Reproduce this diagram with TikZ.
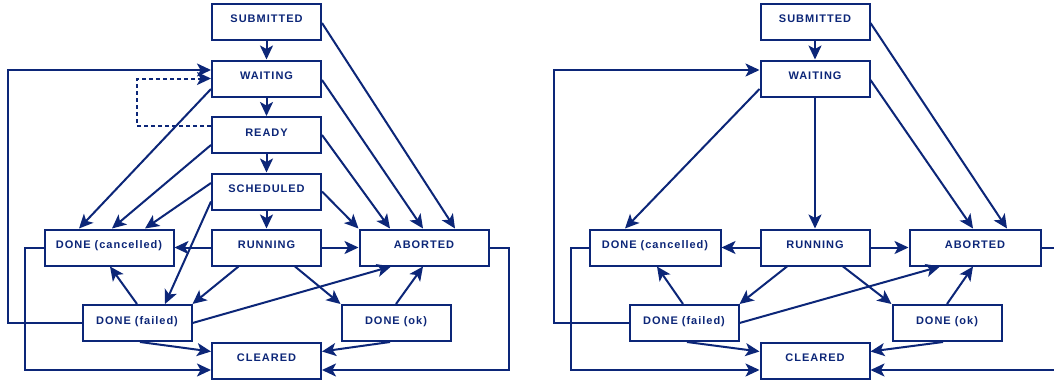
\documentclass[tikz,border=0pt]{standalone}
\usepackage{fontspec}
\usetikzlibrary{arrows.meta}
\newfontfamily\labfont[LetterSpace=9]{Liberation Sans}
\definecolor{navy}{RGB}{12,38,120}
\tikzset{
  state/.style={draw=navy, line width=2pt, fill=white, minimum height=36pt,
    minimum width=109pt, inner sep=0pt, text=navy,
    font=\labfont\bfseries\fontsize{11pt}{13pt}\selectfont,
    text height=8pt, text depth=6pt},
  wide/.style={minimum width=129pt},
  wider/.style={minimum width=131pt},
  edge/.style={draw=navy, line width=2pt, -{Stealth[length=14pt,width=13pt,inset=3.5pt]}},
  dashedge/.style={edge, dash pattern=on 4pt off 3pt}
}
\begin{document}
\begin{tikzpicture}[x=1pt,y=-1pt]
\useasboundingbox (0,0) rectangle (1054,380);
\clip (0,0) rectangle (1054,380);
\fill[white] (0,0) rectangle (1054,380);

% ---------- left diagram ----------
\node[state] (sub)   at (266.5,22)    {SUBMITTED};
\node[state] (wait)  at (266.5,78.5)  {WAITING};
\node[state] (ready) at (266.5,135)   {READY};
\node[state] (sched) at (266.5,191.5) {SCHEDULED};
\node[state] (run)   at (266.5,247.5) {RUNNING};
\node[state,wide] (canc) at (109,247.5) {DONE (cancelled)};
\node[state,wide] (abort) at (424,247.5) {ABORTED};
\node[state] (fail)  at (137,323)     {DONE (failed)};
\node[state] (ok)    at (396,323)     {DONE (ok)};
\node[state] (clear) at (266.5,360.5) {CLEARED};

\draw[edge] (sub) -- (wait);
\draw[edge] (wait) -- (ready);
\draw[edge] (ready) -- (sched);
\draw[edge] (sched) -- (run);
\draw[dashedge] ([yshift=9.5pt]ready.west) -- ++(-74,0) |- (wait.west);
\draw[edge] (fail.west) -- ++(-74,0) |- ([yshift=8.5pt]wait.west);
\draw[edge] ([yshift=-10.5pt]wait.west) -- ([xshift=-30pt]canc.north);
\draw[edge] ([yshift=-10pt]ready.west) -- ([xshift=3pt]canc.north);
\draw[edge] ([yshift=8.5pt]sched.west) -- ([xshift=36pt]canc.north);
\draw[edge] ([yshift=-10pt]sched.west) -- ([xshift=28pt]fail.north);
\draw[edge] (run.west) -- (canc.east);
\draw[edge] (run.east) -- (abort.west);
\draw[edge] ([xshift=-28pt]run.south) -- (fail.north east);
\draw[edge] ([xshift=28.5pt]run.south) -- (ok.north west);
\draw[edge] (fail.north) -- ([xshift=1pt]canc.south);
\draw[edge] (fail.east) -- ([xshift=-33pt]abort.south);
\draw[edge] (ok.north) -- ([xshift=-1pt]abort.south);
\draw[edge] ([xshift=3pt]fail.south) -- ([yshift=9pt]clear.west);
\draw[edge] ([xshift=-6pt]ok.south) -- ([yshift=9pt]clear.east);
\draw[edge] (canc.west) -- ++(-19,0) |- ([yshift=-9.5pt]clear.west);
\draw[edge] (abort.east) -- ++(19,0) |- ([yshift=-9.5pt]clear.east);
\draw[edge] ([yshift=-1pt]sub.east) -- ([xshift=31pt]abort.north);
\draw[edge] ([yshift=-1.5pt]wait.east) -- ([xshift=-1pt]abort.north);
\draw[edge] (ready.east) -- ([xshift=-34pt]abort.north);
\draw[edge] (sched.east) -- (abort.north west);

% ---------- right diagram ----------
\node[state] (rsub)   at (815,22)    {SUBMITTED};
\node[state] (rwait)  at (815,78.5)  {WAITING};
\node[state] (rrun)   at (815,247.5) {RUNNING};
\node[state,wider] (rcanc)  at (655,247.5) {DONE (cancelled)};
\node[state,wider] (rabort) at (975,247.5) {ABORTED};
\node[state] (rfail)  at (684,323)   {DONE (failed)};
\node[state] (rok)    at (947,323)   {DONE (ok)};
\node[state] (rclear) at (815,360.5) {CLEARED};

\draw[edge] (rsub) -- (rwait);
\draw[edge] (rwait) -- (rrun);
\draw[edge] (rfail.west) -- ++(-75,0) |- ([yshift=8.5pt]rwait.west);
\draw[edge] ([yshift=-10.5pt]rwait.west) -- ([xshift=-30pt]rcanc.north);
\draw[edge] (rcanc.west) -- ++(-18,0) |- ([yshift=-9.5pt]rclear.west);
\draw[edge] (rrun.west) -- (rcanc.east);
\draw[edge] (rrun.east) -- (rabort.west);
\draw[edge] ([xshift=-28pt]rrun.south) -- (rfail.north east);
\draw[edge] ([xshift=28pt]rrun.south) -- (rok.north west);
\draw[edge] ([xshift=-1pt]rfail.north) -- ([xshift=2pt]rcanc.south);
\draw[edge] (rfail.east) -- ([xshift=-35pt]rabort.south);
\draw[edge] (rok.north) -- ([xshift=-2pt]rabort.south);
\draw[edge] ([xshift=3pt]rfail.south) -- ([yshift=9pt]rclear.west);
\draw[edge] ([xshift=-4pt]rok.south) -- ([yshift=9pt]rclear.east);
\draw[edge] (rabort.east) -- ++(19,0) |- ([yshift=-9.5pt]rclear.east);
\draw[edge] ([yshift=-1pt]rsub.east) -- ([xshift=32pt]rabort.north);
\draw[edge] ([yshift=-1.5pt]rwait.east) -- ([xshift=-2pt]rabort.north);
\end{tikzpicture}
\end{document}
